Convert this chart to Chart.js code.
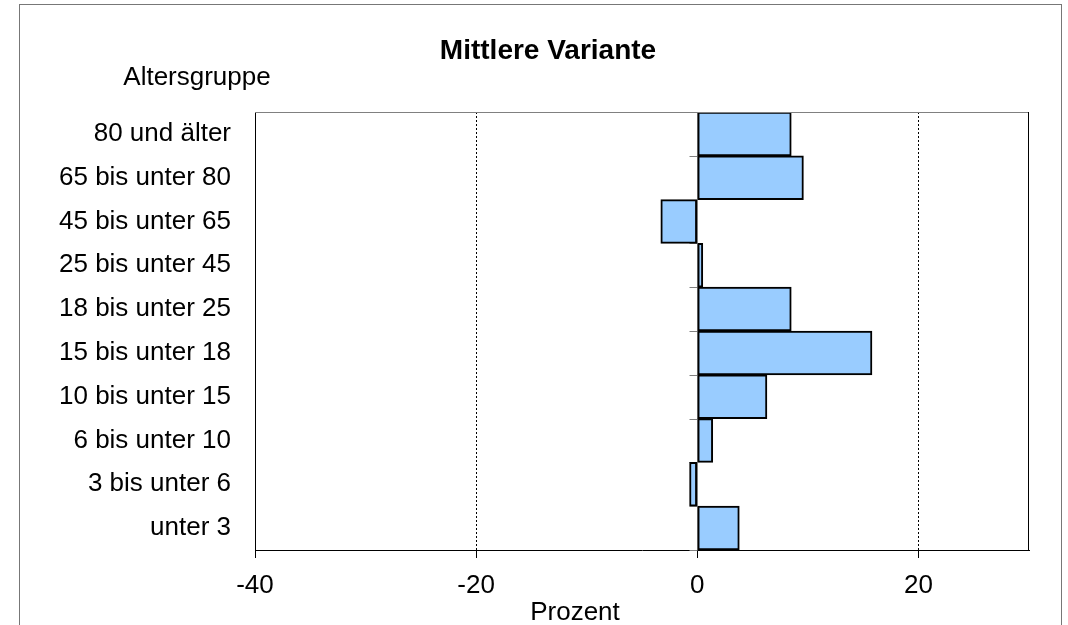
<!DOCTYPE html>
<html lang="de">
<head>
<meta charset="UTF-8">
<title>Mittlere Variante</title>
<script src="https://cdn.jsdelivr.net/npm/chart.js"></script>
<style>
  body { margin: 0; background: #fff; }
  canvas { display: block; }
</style>
</head>
<body>
<canvas id="chart" width="1068" height="625"></canvas>
<script>
// Daten (von oben nach unten)
const ageGroups = ["80 und älter", "65 bis unter 80", "45 bis unter 65", "25 bis unter 45", "18 bis unter 25",
                   "15 bis unter 18", "10 bis unter 15", "6 bis unter 10", "3 bis unter 6", "unter 3"];
const changePercent = [8.5, 9.6, -3.3, 0.5, 8.5, 15.8, 6.3, 1.4, -0.7, 3.8];
const xTicks = [-40, -20, 0, 20];
const xMin = -40, xMax = 30;

const FONT = 'Arial, "Liberation Sans", sans-serif';

const decor = {
    id: 'decor',
    beforeDraw(chart) {
        const ctx = chart.ctx;
        ctx.save();
        ctx.fillStyle = '#fff';
        ctx.fillRect(0, 0, chart.width, chart.height);
        ctx.strokeStyle = '#777';
        ctx.lineWidth = 1;
        ctx.strokeRect(19.5, 4.5, 1042, 700);
        ctx.restore();
    },
    beforeDatasetsDraw(chart) {
        // Achse bei 0 mit Teilstrichen an den Kategoriegrenzen
        const { ctx, chartArea: a, scales: { x, y } } = chart;
        const x0 = Math.round(x.getPixelForValue(0)) + 0.5;
        const half = (y.getPixelForValue(1) - y.getPixelForValue(0)) / 2;
        ctx.save();
        ctx.strokeStyle = '#808080';
        ctx.lineWidth = 1;
        ctx.beginPath();
        ctx.moveTo(x0, a.top);
        ctx.lineTo(x0, a.bottom);
        for (let i = 0; i <= ageGroups.length; i++) {
            const py = Math.round(y.getPixelForValue(i) - half) + 0.5;
            ctx.moveTo(x0 - 8, py);
            ctx.lineTo(x0, py);
        }
        ctx.stroke();
        ctx.restore();
    },
    afterDraw(chart) {
        const { ctx, chartArea: a } = chart;
        ctx.save();
        // obere und rechte Kante der Zeichenfläche
        ctx.lineWidth = 1;
        ctx.strokeStyle = '#808080';
        ctx.beginPath();
        ctx.moveTo(a.left, Math.round(a.top) + 0.5);
        ctx.lineTo(a.right, Math.round(a.top) + 0.5);
        ctx.stroke();
        ctx.strokeStyle = '#000';
        ctx.beginPath();
        ctx.moveTo(Math.round(a.right) - 0.5, a.top);
        ctx.lineTo(Math.round(a.right) - 0.5, a.bottom);
        ctx.stroke();
        // Titel und Achsenbeschriftungen
        ctx.fillStyle = '#000';
        ctx.textAlign = 'center';
        ctx.textBaseline = 'middle';
        ctx.font = 'bold 28px ' + FONT;
        ctx.fillText('Mittlere Variante', 548, 51);
        ctx.font = '26px ' + FONT;
        ctx.fillText('Altersgruppe', a.left - 58, a.top - 34);
        ctx.fillText('Prozent', a.left + 320, a.bottom + 63);
        ctx.restore();
    }
};

new Chart(document.getElementById('chart'), {
    type: 'bar',
    data: {
        labels: ageGroups,
        datasets: [{
            data: changePercent,
            backgroundColor: '#99ccff',
            borderColor: '#000',
            borderWidth: 2,
            borderSkipped: false,
            categoryPercentage: 1,
            barPercentage: 1
        }]
    },
    options: {
        indexAxis: 'y',
        responsive: false,
        animation: false,
        devicePixelRatio: 1,
        layout: { padding: { left: 20, right: 39, top: 112, bottom: 0 } },
        plugins: {
            legend: { display: false },
            tooltip: { enabled: false },
            title: { display: false }
        },
        scales: {
            x: {
                type: 'linear',
                min: xMin,
                max: xMax,
                afterBuildTicks: s => { s.ticks = xTicks.map(v => ({ value: v })); },
                afterFit: s => { s.height = 75; },
                ticks: {
                    color: '#000',
                    padding: 12,
                    font: { family: FONT, size: 26 },
                    maxRotation: 0
                },
                grid: {
                    color: c => (c.tick && (c.tick.value === 0 || c.tick.value === xMin)) ? 'rgba(0,0,0,0)' : '#000',
                    lineWidth: 1,
                    tickLength: 8,
                    tickColor: '#000'
                },
                border: { display: true, color: '#000', width: 1, dash: [2, 2] }
            },
            y: {
                afterFit: s => { s.width = 235; },
                ticks: {
                    color: '#000',
                    padding: 16,
                    font: { family: FONT, size: 26 }
                },
                grid: { display: false },
                border: { display: true, color: '#000', width: 1 }
            }
        }
    },
    plugins: [decor]
});
</script>
</body>
</html>
